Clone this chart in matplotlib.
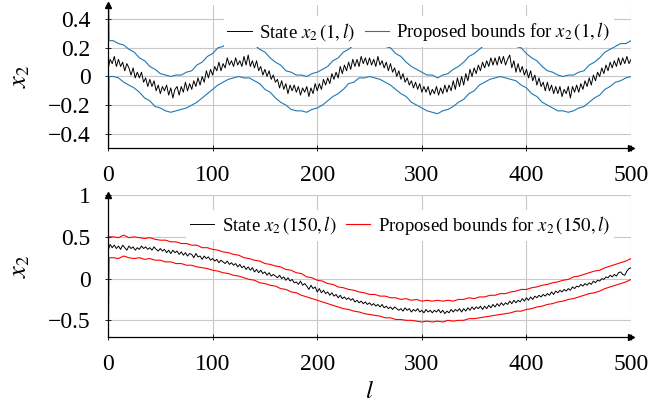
import numpy as np
import matplotlib
matplotlib.use("Agg")
import matplotlib.pyplot as plt

plt.rcParams['font.family'] = ['Liberation Serif', 'DejaVu Serif']
plt.rcParams['mathtext.fontset'] = 'stix'

# time steps
l_state = np.arange(0, 501, 2)
l_bound = np.concatenate(([0, 1], np.arange(5, 501, 5)))

# top panel: x2(1, l), every 2nd step
state_top = [
    0.05, 0.12, 0.09, 0.14, 0.07, 0.12, 0.07, 0.10, 0.04, 0.09,
    0.06, 0.01, 0.06, -0.01, 0.03, -0.01, 0.03, -0.04, -0.01, -0.07,
    -0.02, -0.07, -0.03, -0.10, -0.06, -0.12, -0.07, -0.10, -0.06, -0.13,
    -0.08, -0.15, -0.09, -0.07, -0.13, -0.07, -0.11, -0.04, -0.10, -0.05,
    -0.09, -0.03, -0.07, -0.01, -0.06, 0.00, -0.04, 0.04, -0.01, 0.05,
    0.01, 0.07, 0.04, 0.10, 0.04, 0.09, 0.06, 0.13, 0.08, 0.11,
    0.07, 0.13, 0.08,
    0.11, 0.07, 0.14, 0.08, 0.15, 0.07, 0.11, 0.06, 0.11, 0.04,
    0.07, 0.01, 0.05, 0.00, 0.04, -0.02, 0.01, -0.04, -0.02, -0.08,
    -0.03, -0.09, -0.05, -0.12, -0.06, -0.10, -0.06, -0.11, -0.07, -0.13,
    -0.08, -0.11, -0.07, -0.14, -0.08, -0.12, -0.05, -0.10, -0.05, -0.09,
    -0.02, -0.06, -0.01, -0.05, 0.02, -0.02, 0.03, -0.01, 0.07, 0.02,
    0.08, 0.04, 0.10, 0.05, 0.12, 0.07, 0.12, 0.07, 0.14, 0.09,
    0.13, 0.08,
    0.13, 0.08, 0.12, 0.07, 0.14, 0.08, 0.11, 0.06, 0.10, 0.04,
    0.09, 0.03, 0.06, 0.00, 0.04, -0.02, 0.02, -0.04, -0.01, -0.06,
    -0.03, -0.08, -0.04, -0.09, -0.05, -0.11, -0.07, -0.11, -0.07, -0.13,
    -0.09, -0.12, -0.07, -0.13, -0.08, -0.12, -0.06, -0.11, -0.06, -0.10,
    -0.03, -0.09, -0.01, -0.07, 0.00, -0.06, 0.02, -0.03, 0.05, 0.00,
    0.06, 0.02, 0.08, 0.04, 0.10, 0.06, 0.11, 0.07, 0.13, 0.08,
    0.13, 0.08, 0.14,
    0.09, 0.14, 0.08, 0.12, 0.15, 0.06, 0.11, 0.03, 0.09, 0.03,
    0.07, 0.01, 0.05, -0.01, 0.04, -0.03, 0.01, -0.06, -0.01, -0.07,
    -0.04, -0.10, -0.04, -0.10, -0.06, -0.12, -0.07, -0.12, -0.07, -0.14,
    -0.09, -0.12, -0.07, -0.15, -0.07, -0.11, -0.06, -0.11, -0.05, -0.09,
    -0.03, -0.07, -0.01, -0.06, 0.01, -0.03, 0.03, 0.00, 0.06, 0.02,
    0.08, 0.04, 0.10, 0.06, 0.11, 0.07, 0.13, 0.08, 0.13, 0.09,
    0.14, 0.09, 0.12]
upper_top = [
    1.00, 0.25,
    0.25, 0.23, 0.22, 0.19, 0.17, 0.13, 0.11, 0.07, 0.05, 0.02,
    0.01, 0.00, 0.01, 0.01, 0.03, 0.04, 0.08, 0.10, 0.14, 0.16,
    0.20, 0.21, 0.24, 0.24, 0.25,
    0.24, 0.24, 0.22, 0.19, 0.17, 0.13, 0.10, 0.08, 0.04, 0.03,
    0.01, 0.01, 0.00, 0.02, 0.03, 0.05, 0.07, 0.11, 0.13, 0.17,
    0.19, 0.22, 0.23, 0.25, 0.24,
    0.25, 0.23, 0.21, 0.20, 0.16, 0.14, 0.10, 0.07, 0.05, 0.03,
    0.01, 0.01, -0.01, 0.01, 0.02, 0.05, 0.07, 0.10, 0.14, 0.16,
    0.19, 0.22, 0.23, 0.24, 0.25,
    0.24, 0.24, 0.21, 0.20, 0.16, 0.13, 0.11, 0.07, 0.04, 0.03,
    0.01, 0.00, 0.01, 0.01, 0.03, 0.04, 0.08, 0.10, 0.13, 0.17,
    0.19, 0.21, 0.23, 0.23, 0.25]
lower_top = [
    -1.00, 0.00,
    0.00, -0.01, -0.04, -0.06, -0.08, -0.11, -0.15, -0.17, -0.21, -0.22,
    -0.24, -0.25, -0.24, -0.23, -0.22, -0.20, -0.18, -0.15, -0.12, -0.09,
    -0.06, -0.04, -0.02, -0.01, 0.00,
    -0.01, -0.01, -0.03, -0.05, -0.09, -0.11, -0.15, -0.18, -0.20, -0.23,
    -0.24, -0.24, -0.25, -0.23, -0.22, -0.20, -0.17, -0.14, -0.12, -0.09,
    -0.05, -0.04, -0.01, -0.01, 0.00,
    -0.01, -0.02, -0.04, -0.06, -0.09, -0.12, -0.14, -0.18, -0.20, -0.22,
    -0.24, -0.25, -0.26, -0.24, -0.23, -0.21, -0.18, -0.16, -0.12, -0.10,
    -0.06, -0.04, -0.02, -0.01, 0.00,
    -0.01, -0.02, -0.03, -0.06, -0.08, -0.12, -0.14, -0.18, -0.20, -0.22,
    -0.24, -0.24, -0.25, -0.24, -0.22, -0.21, -0.18, -0.15, -0.13, -0.09,
    -0.07, -0.04, -0.03, -0.01, 0.00]

# bottom panel: x2(150, l), every 2nd step
state_bot = [
    0.33, 0.41, 0.37, 0.40, 0.36, 0.39, 0.35, 0.40, 0.37, 0.34,
    0.39, 0.36, 0.38, 0.34, 0.37, 0.35, 0.39, 0.36, 0.38, 0.35,
    0.37, 0.34, 0.38, 0.35, 0.33, 0.36, 0.33, 0.35, 0.31, 0.34,
    0.30, 0.34, 0.31, 0.33, 0.29, 0.32, 0.28, 0.31, 0.27, 0.30,
    0.29, 0.25, 0.30, 0.26, 0.27, 0.23, 0.27, 0.24, 0.26, 0.22,
    0.24, 0.21, 0.23, 0.19, 0.22, 0.20, 0.18, 0.21, 0.17, 0.19,
    0.16, 0.18, 0.14, 0.17, 0.13, 0.15, 0.11, 0.14, 0.10, 0.13,
    0.08, 0.11, 0.07, 0.10, 0.06, 0.08, 0.04, 0.07, 0.03, 0.05,
    0.03, 0.01, 0.04, 0.00, 0.02, -0.02, 0.01, -0.03, -0.01, -0.05,
    -0.04, -0.07, -0.03, -0.08, -0.06, -0.09, -0.13, -0.08, -0.12, -0.10,
    -0.16, -0.12, -0.17, -0.14, -0.18, -0.16, -0.20, -0.17, -0.21, -0.19,
    -0.23, -0.20, -0.24, -0.22, -0.25, -0.23, -0.26, -0.24, -0.28, -0.26,
    -0.29, -0.27, -0.30, -0.28, -0.31, -0.29, -0.32, -0.30, -0.33, -0.31,
    -0.34, -0.31, -0.35, -0.33, -0.36, -0.34, -0.37, -0.34, -0.36, -0.38,
    -0.36, -0.39, -0.35, -0.38, -0.36, -0.40, -0.37, -0.39, -0.36, -0.40,
    -0.38, -0.41, -0.37, -0.40, -0.38, -0.41, -0.38, -0.40, -0.37, -0.41,
    -0.38, -0.42, -0.39, -0.41, -0.37, -0.40, -0.37, -0.39, -0.36, -0.40,
    -0.36, -0.39, -0.35, -0.38, -0.34, -0.37, -0.34, -0.36, -0.33, -0.37,
    -0.33, -0.36, -0.32, -0.35, -0.31, -0.34, -0.30, -0.33, -0.29, -0.32,
    -0.29, -0.31, -0.27, -0.30, -0.26, -0.29, -0.26, -0.28, -0.24, -0.27,
    -0.23, -0.26, -0.22, -0.25, -0.21, -0.23, -0.20, -0.22, -0.19, -0.21,
    -0.18, -0.20, -0.16, -0.19, -0.15, -0.17, -0.14, -0.16, -0.13, -0.15,
    -0.12, -0.14, -0.10, -0.12, -0.09, -0.10, -0.07, -0.09, -0.06, -0.08,
    -0.05, -0.07, -0.03, -0.05, -0.02, -0.03, 0.00, -0.01, 0.02, 0.01,
    0.04, 0.02, 0.05, 0.03, 0.07, 0.08, 0.05, 0.04, 0.09, 0.12,
    0.13]
upper_bot = [
    0.50, 0.50,
    0.50, 0.49, 0.52, 0.49, 0.50, 0.49, 0.48, 0.49, 0.47, 0.46,
    0.46, 0.44, 0.44, 0.42, 0.42, 0.40, 0.40, 0.37, 0.37, 0.35,
    0.34, 0.32, 0.31, 0.29, 0.28, 0.25, 0.24, 0.22, 0.21, 0.18,
    0.17, 0.15, 0.14, 0.11, 0.10, 0.07, 0.06, 0.02, 0.01, -0.02,
    -0.03, -0.06, -0.07, -0.10, -0.11, -0.13, -0.14, -0.16, -0.17, -0.19,
    -0.19, -0.21, -0.21, -0.23, -0.23, -0.25, -0.24, -0.26, -0.25, -0.27,
    -0.26, -0.27, -0.26, -0.27, -0.26, -0.27, -0.25, -0.25, -0.23, -0.24,
    -0.22, -0.22, -0.20, -0.20, -0.18, -0.18, -0.16, -0.15, -0.13, -0.13,
    -0.11, -0.10, -0.08, -0.07, -0.05, -0.04, -0.02, -0.01, 0.02, 0.03,
    0.05, 0.07, 0.09, 0.10, 0.13, 0.15, 0.17, 0.19, 0.21, 0.24]
lower_bot = [
    -1.00, 0.25,
    0.25, 0.24, 0.27, 0.25, 0.24, 0.25, 0.23, 0.24, 0.22, 0.22,
    0.20, 0.20, 0.18, 0.18, 0.16, 0.16, 0.14, 0.13, 0.12, 0.10,
    0.09, 0.07, 0.06, 0.04, 0.03, 0.01, -0.01, -0.02, -0.05, -0.06,
    -0.08, -0.09, -0.12, -0.13, -0.16, -0.17, -0.20, -0.22, -0.24, -0.26,
    -0.28, -0.30, -0.32, -0.34, -0.36, -0.37, -0.39, -0.40, -0.42, -0.43,
    -0.44, -0.45, -0.47, -0.47, -0.49, -0.49, -0.50, -0.50, -0.51, -0.52,
    -0.51, -0.52, -0.51, -0.52, -0.50, -0.51, -0.50, -0.50, -0.48, -0.48,
    -0.47, -0.46, -0.45, -0.44, -0.43, -0.42, -0.41, -0.39, -0.39, -0.37,
    -0.36, -0.34, -0.33, -0.31, -0.30, -0.28, -0.27, -0.25, -0.24, -0.22,
    -0.20, -0.18, -0.17, -0.15, -0.12, -0.10, -0.08, -0.06, -0.04, -0.01]

xticks = [0, 100, 200, 300, 400, 500]
yticks_top = [-0.4, -0.2, 0, 0.2, 0.4]
ylabels_top = ["\u22120.4", "\u22120.2", "0", "0.2", "0.4"]
yticks_bot = [-0.5, 0, 0.5, 1]
ylabels_bot = ["\u22120.5", "0", "0.5", "1"]

blue = "#1f78b4"
red = "#ff0000"

fig = plt.figure(figsize=(6.68, 4.09), dpi=100)
ax1 = fig.add_axes([0.1617, 0.638, 0.783, 0.350])
ax2 = fig.add_axes([0.1617, 0.176, 0.783, 0.347])


def style(ax, ylim, yt, yl):
    ax.set_xlim(0, 500)
    ax.set_ylim(*ylim)
    ax.set_xticks(xticks)
    ax.set_xticklabels([str(t) for t in xticks])
    ax.set_yticks(yt)
    ax.set_yticklabels(yl)
    ax.grid(True, color="#c8c8c8", lw=0.8)
    ax.set_axisbelow(True)
    for s in ["top", "right"]:
        ax.spines[s].set_visible(False)
    for s in ["left", "bottom"]:
        ax.spines[s].set_linewidth(0.9)
        ax.spines[s].set_zorder(5)
    ax.tick_params(direction="inout", length=5, width=0.6, labelsize=17, pad=10)
    # arrow heads on the axis lines
    ax.plot(1, 0, ">", color="k", ms=5, transform=ax.transAxes, clip_on=False, zorder=6)
    ax.plot(0, 1, "^", color="k", ms=5, transform=ax.transAxes, clip_on=False, zorder=6)
    ax.set_ylabel(r"$x_2$", fontsize=19)
    ax.yaxis.set_label_coords(-0.145, 0.5)


style(ax1, (-0.5, 0.5), yticks_top, ylabels_top)
ax1.plot(l_state, state_top, color="k", lw=0.7, label=r"State $x_2\,(1,l)$", zorder=3)
ax1.plot(l_bound, upper_top, color=blue, lw=0.8, label=r"Proposed bounds for $x_2\,(1,l)$", zorder=2)
ax1.plot(l_bound, lower_top, color=blue, lw=0.8, zorder=2)
leg1 = ax1.legend(loc="upper right", ncol=2, fontsize=13.5, frameon=True, fancybox=False,
                  edgecolor="none", facecolor="white", framealpha=1, handlelength=1.3,
                  handletextpad=0.4, columnspacing=0.5, borderpad=0.2,
                  bbox_to_anchor=(0.985, 0.985))
leg1.set_zorder(7)

style(ax2, (-0.7, 1.0), yticks_bot, ylabels_bot)
ax2.plot(l_state, state_bot, color="k", lw=0.7, label=r"State $x_2\,(150,l)$", zorder=3)
ax2.plot(l_bound, upper_bot, color=red, lw=0.8, label=r"Proposed bounds for $x_2\,(150,l)$", zorder=2)
ax2.plot(l_bound, lower_bot, color=red, lw=0.8, zorder=2)
leg2 = ax2.legend(loc="upper right", ncol=2, fontsize=13.5, frameon=True, fancybox=False,
                  edgecolor="none", facecolor="white", framealpha=1, handlelength=1.3,
                  handletextpad=0.4, columnspacing=0.5, borderpad=0.2,
                  bbox_to_anchor=(0.985, 0.96))
leg2.set_zorder(7)
ax2.set_xlabel(r"$l$", fontsize=18, labelpad=4)

fig.savefig("out.png", dpi=100)
